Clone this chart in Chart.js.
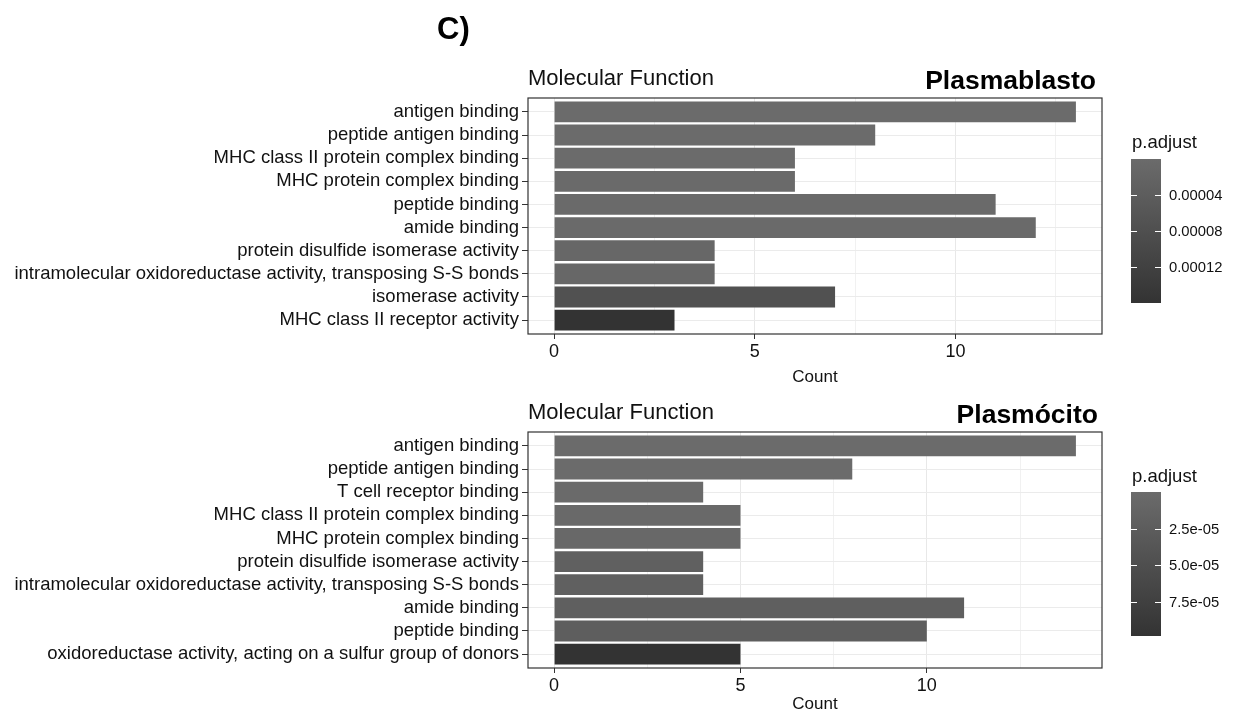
<!DOCTYPE html>
<html><head><meta charset="utf-8">
<script src="https://cdn.jsdelivr.net/npm/chart.js@4.4.1/dist/chart.umd.min.js"></script>
<style>
html,body{margin:0;padding:0;background:#fff;}
body{width:1234px;height:715px;position:relative;overflow:hidden;font-family:"Liberation Sans",Arial,sans-serif;}
.w{position:absolute;left:0;width:1234px;}
#w1{top:0;height:390px;} #w2{top:390px;height:325px;}
.t{position:absolute;white-space:nowrap;line-height:1;color:#000;}
</style></head><body>
<div class="w" id="w1"><canvas id="c1" width="1234" height="390"></canvas></div>
<div class="w" id="w2"><canvas id="c2" width="1234" height="325"></canvas></div>
<div class="t" style="left:437px;top:13px;font-size:31px;font-weight:bold;">C)</div>
<div class="t" style="left:528px;top:67px;font-size:22px;color:#111;">Molecular Function</div>
<div class="t" style="right:138px;top:67px;font-size:26.5px;font-weight:bold;">Plasmablasto</div>
<div class="t" style="left:528px;top:401px;font-size:22px;color:#111;">Molecular Function</div>
<div class="t" style="right:136px;top:401px;font-size:26.5px;font-weight:bold;">Plasmócito</div>
<script>
// ---- data: Plasmablasto ----
const categoriesTop = [
  "antigen binding",
  "peptide antigen binding",
  "MHC class II protein complex binding",
  "MHC protein complex binding",
  "peptide binding",
  "amide binding",
  "protein disulfide isomerase activity",
  "intramolecular oxidoreductase activity, transposing S-S bonds",
  "isomerase activity",
  "MHC class II receptor activity"
];
const countsTop = [13, 8, 6, 6, 11, 12, 4, 4, 7, 3];
const pAdjustTop = [1e-9, 2e-7, 1e-6, 1.5e-6, 2e-6, 3e-6, 1.1e-5, 1.2e-5, 7.4e-5, 1.6e-4];
const legendTicksTop = [0.00004, 0.00008, 0.00012];
const legendLabelsTop = ["0.00004", "0.00008", "0.00012"];

// ---- data: Plasmócito ----
const categoriesBot = [
  "antigen binding",
  "peptide antigen binding",
  "T cell receptor binding",
  "MHC class II protein complex binding",
  "MHC protein complex binding",
  "protein disulfide isomerase activity",
  "intramolecular oxidoreductase activity, transposing S-S bonds",
  "amide binding",
  "peptide binding",
  "oxidoreductase activity, acting on a sulfur group of donors"
];
const countsBot = [14, 8, 4, 5, 5, 4, 4, 11, 10, 5];
const pAdjustBot = [1e-9, 5e-7, 2e-6, 3e-6, 5e-6, 1.9e-5, 2.0e-5, 2.1e-5, 2.2e-5, 9.8e-5];
const legendTicksBot = [2.5e-5, 5.0e-5, 7.5e-5];
const legendLabelsBot = ["2.5e-05", "5.0e-05", "7.5e-05"];

// x-axis ticks
const xMajorTicks = [0, 5, 10];
const xMinorTicks = [2.5, 7.5, 12.5];

const LIGHT = [107, 107, 107], DARK = [51, 51, 51];
function shade(t) {
  const c = LIGHT.map((l, i) => Math.round(l + (DARK[i] - l) * t));
  return 'rgb(' + c.join(',') + ')';
}

Chart.defaults.font.family = "'Liberation Sans', Arial, sans-serif";

const framePlugin = {
  id: 'frame',
  afterDatasetsDraw(chart) {
    const a = chart.chartArea, ctx = chart.ctx;
    ctx.save();
    ctx.strokeStyle = '#333';
    ctx.lineWidth = 1.2;
    ctx.strokeRect(a.left, a.top, a.right - a.left, a.bottom - a.top);
    ctx.restore();
  }
};

const colorbarPlugin = {
  id: 'colorbar',
  afterDraw(chart, args, o) {
    const ctx = chart.ctx;
    const lo = Math.min(...o.p), hi = Math.max(...o.p);
    const x = o.x, y = o.y, w = o.w, h = o.h;
    ctx.save();
    const g = ctx.createLinearGradient(0, y, 0, y + h);
    g.addColorStop(0, shade(0));
    g.addColorStop(1, shade(1));
    ctx.fillStyle = g;
    ctx.fillRect(x, y, w, h);
    ctx.strokeStyle = '#fff';
    ctx.lineWidth = 1;
    ctx.fillStyle = '#111';
    ctx.font = "14.8px 'Liberation Sans', Arial, sans-serif";
    ctx.textBaseline = 'middle';
    ctx.textAlign = 'left';
    o.ticks.forEach((v, i) => {
      const ty = Math.round(y + (v - lo) / (hi - lo) * h) + 0.5;
      ctx.beginPath();
      ctx.moveTo(x, ty); ctx.lineTo(x + 6, ty);
      ctx.moveTo(x + w - 6, ty); ctx.lineTo(x + w, ty);
      ctx.stroke();
      ctx.fillText(o.labels[i], x + w + 8, ty);
    });
    ctx.font = "18.5px 'Liberation Sans', Arial, sans-serif";
    ctx.fillText('p.adjust', x + 1, o.titleY);
    ctx.restore();
  }
};

function makeChart(id, cats, counts, padj, lticks, llabels, g) {
  const lo = Math.min(...padj), hi = Math.max(...padj);
  const colors = padj.map(p => shade((p - lo) / (hi - lo)));
  const maxC = Math.max(...counts);
  const xTicks = [...xMajorTicks, ...xMinorTicks].sort((a, b) => a - b);
  return new Chart(document.getElementById(id), {
    type: 'bar',
    data: {
      labels: cats,
      datasets: [{
        data: counts,
        backgroundColor: colors,
        borderWidth: 0,
        barPercentage: 0.9,
        categoryPercentage: 1.0
      }]
    },
    options: {
      indexAxis: 'y',
      responsive: false,
      animation: false,
      devicePixelRatio: 1,
      layout: { padding: { top: g.top, right: 132, left: 0, bottom: 0 } },
      plugins: {
        legend: { display: false },
        tooltip: { enabled: false },
        colorbar: { p: padj, ticks: lticks, labels: llabels, x: 1131, y: g.barY, w: 30, h: 144, titleY: g.titleY }
      },
      scales: {
        x: {
          type: 'linear',
          min: -0.05 * maxC,
          max: 1.05 * maxC,
          afterBuildTicks: s => { s.ticks = xTicks.map(v => ({ value: v })); },
          grid: {
            color: c => (c.tick && xMajorTicks.includes(c.tick.value)) ? '#e8e8e8' : '#f1f1f1',
            lineWidth: 1,
            tickLength: 5,
            tickColor: c => (c.tick && xMajorTicks.includes(c.tick.value)) ? '#333' : 'rgba(0,0,0,0)'
          },
          border: { display: false },
          ticks: {
            callback: v => xMajorTicks.includes(v) ? String(v) : '',
            color: '#111', font: { size: 18 }, padding: 2, maxRotation: 0, autoSkip: false
          },
          title: { display: true, text: 'Count', color: '#111', font: { size: 17 }, padding: { top: 0, bottom: g.titlePad } },
          afterFit: s => { s.height = g.xh; }
        },
        y: {
          type: 'category',
          offset: true,
          afterBuildTicks: s => { s._startValue = -0.6; s._valueRange = s.ticks.length - 1 + 1.2; },
          grid: { offset: false, color: '#ebebeb', lineWidth: 1, tickLength: 6, tickColor: '#333' },
          border: { display: false },
          ticks: { color: '#111', font: { size: 18.5 }, padding: 3, autoSkip: false },
          afterFit: s => { s.width = 528; }
        }
      }
    },
    plugins: [framePlugin, colorbarPlugin]
  });
}

makeChart('c1', categoriesTop, countsTop, pAdjustTop, legendTicksTop, legendLabelsTop,
  { top: 98, xh: 56, titlePad: 2, barY: 159, titleY: 143 });
makeChart('c2', categoriesBot, countsBot, pAdjustBot, legendTicksBot, legendLabelsBot,
  { top: 42, xh: 47, titlePad: 0, barY: 102, titleY: 87 });
</script>
</body></html>
